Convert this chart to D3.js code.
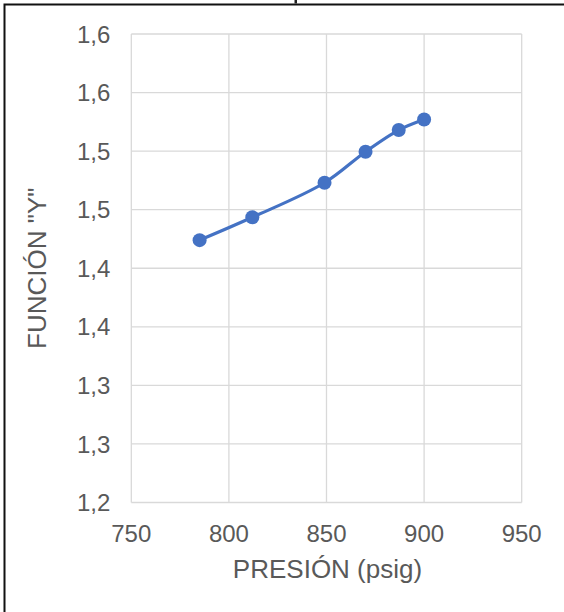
<!DOCTYPE html>
<html>
<head>
<meta charset="utf-8">
<script src="https://cdn.jsdelivr.net/npm/d3@7"></script>
<style>
  body { margin: 0; background: #fff; }
  svg { display: block; font-family: "Liberation Sans", Arial, sans-serif; }
</style>
</head>
<body>
<div id="chart"></div>
<script>
// data
const presion = [785, 812, 849, 870, 887, 900];
const funcionY = [1.424, 1.4435, 1.473, 1.4995, 1.518, 1.527];
const xTicks = [750, 800, 850, 900, 950];
const yTicks = [1.20, 1.25, 1.30, 1.35, 1.40, 1.45, 1.50, 1.55, 1.60];
const yTickLabels = ["1,2", "1,3", "1,3", "1,4", "1,4", "1,5", "1,5", "1,6", "1,6"];

const width = 564, height = 612;
const plot = { left: 131.3, right: 521.7, top: 34, bottom: 502.5 };

const svg = d3.select("#chart").append("svg")
    .attr("width", width)
    .attr("height", height);

// chart frame (extends past the window on right and bottom)
svg.append("rect")
    .attr("x", 4.5).attr("y", 4.5)
    .attr("width", 700).attr("height", 700)
    .attr("fill", "none")
    .attr("stroke", "#111")
    .attr("stroke-width", 2);

// cut-off bit of the title above the window
svg.append("rect")
    .attr("x", 294.5).attr("y", 0)
    .attr("width", 2.5).attr("height", 3.5)
    .attr("fill", "#222");

const x = d3.scaleLinear().domain([750, 950]).range([plot.left, plot.right]);
const y = d3.scaleLinear().domain([1.2, 1.6]).range([plot.bottom, plot.top]);

const grid = svg.append("g").attr("class", "grid");
grid.selectAll("line.h")
    .data(yTicks)
    .enter().append("line")
    .attr("class", "h")
    .attr("x1", plot.left).attr("x2", plot.right)
    .attr("y1", d => y(d)).attr("y2", d => y(d))
    .attr("stroke", "#d9d9d9")
    .attr("stroke-width", 1.3);
grid.selectAll("line.v")
    .data(xTicks)
    .enter().append("line")
    .attr("class", "v")
    .attr("y1", plot.top).attr("y2", plot.bottom)
    .attr("x1", d => x(d)).attr("x2", d => x(d))
    .attr("stroke", "#d9d9d9")
    .attr("stroke-width", 1.3);

// tick labels
svg.append("g")
    .selectAll("text")
    .data(yTicks)
    .enter().append("text")
    .attr("x", plot.left - 21)
    .attr("y", d => y(d))
    .attr("dy", "0.36em")
    .attr("text-anchor", "end")
    .attr("fill", "#595959")
    .attr("font-size", 24)
    .text((d, i) => yTickLabels[i]);

svg.append("g")
    .selectAll("text")
    .data(xTicks)
    .enter().append("text")
    .attr("x", d => x(d))
    .attr("y", plot.bottom + 39)
    .attr("text-anchor", "middle")
    .attr("fill", "#595959")
    .attr("font-size", 24)
    .text(d => d);

// axis titles
svg.append("text")
    .attr("x", (plot.left + plot.right) / 2 + 1)
    .attr("y", 578)
    .attr("text-anchor", "middle")
    .attr("fill", "#595959")
    .attr("font-size", 26)
    .text("PRESIÓN (psig)");

svg.append("text")
    .attr("transform", `translate(46,${(plot.top + plot.bottom) / 2}) rotate(-90)`)
    .attr("text-anchor", "middle")
    .attr("fill", "#595959")
    .attr("font-size", 26)
    .text("FUNCIÓN \"Y\"");

// series
const pts = presion.map((p, i) => ({ p: p, f: funcionY[i] }));

const line = d3.line()
    .x(d => x(d.p))
    .y(d => y(d.f))
    .curve(d3.curveCatmullRom);

svg.append("path")
    .datum(pts)
    .attr("d", line)
    .attr("fill", "none")
    .attr("stroke", "#4472c4")
    .attr("stroke-width", 3.2)
    .attr("stroke-linecap", "round");

svg.append("g")
    .selectAll("circle")
    .data(pts)
    .enter().append("circle")
    .attr("cx", d => x(d.p))
    .attr("cy", d => y(d.f))
    .attr("r", 7)
    .attr("fill", "#4472c4");
</script>
</body>
</html>
